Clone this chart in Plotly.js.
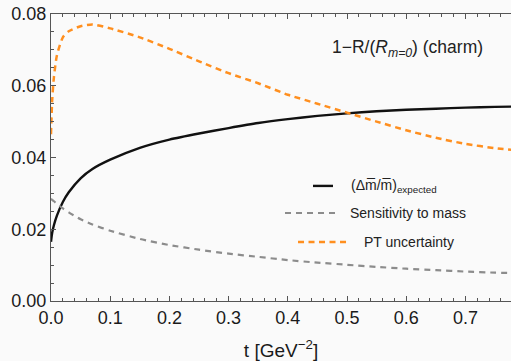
<!DOCTYPE html>
<html>
<head>
<meta charset="utf-8">
<script src="https://cdn.plot.ly/plotly-3.0.1.min.js"></script>
<style>html,body{margin:0;padding:0;background:#fafafa;overflow:hidden}#chart{width:511px;height:361px}</style>
</head>
<body>
<div id="chart"></div>
<script>
// Data
const tValues = [0, 0.002, 0.005, 0.01, 0.02, 0.03, 0.05, 0.07, 0.1, 0.15, 0.2, 0.25, 0.3, 0.35, 0.4, 0.45, 0.5, 0.55, 0.6, 0.65, 0.7, 0.75, 0.78];
const expectedValues = [0.0165, 0.0190, 0.0212, 0.0238, 0.0276, 0.0303, 0.0342, 0.0368, 0.0394, 0.0427, 0.0450, 0.0467, 0.0482, 0.0496, 0.0507, 0.0516, 0.0523, 0.0529, 0.0533, 0.0536, 0.0539, 0.0541, 0.0542];
const sensitivityValues = [0.0285, 0.0282, 0.0278, 0.0271, 0.0258, 0.0247, 0.0228, 0.0213, 0.0196, 0.0173, 0.0156, 0.0143, 0.0132, 0.0123, 0.0114, 0.0107, 0.0101, 0.0095, 0.0090, 0.0086, 0.0082, 0.0079, 0.0078];
const ptValues = [0.0465, 0.0560, 0.0625, 0.0685, 0.0735, 0.0752, 0.0766, 0.0771, 0.0760, 0.0735, 0.0703, 0.0668, 0.0635, 0.0607, 0.0575, 0.0550, 0.0525, 0.0500, 0.0476, 0.0455, 0.0438, 0.0426, 0.0421];
const seriesNames = ["(\u0394m\u0305/m\u0305)<sub>expected</sub>", "Sensitivity to mass", "PT uncertainty"];
const xTickVals = [0, 0.1, 0.2, 0.3, 0.4, 0.5, 0.6, 0.7];
const yTickVals = [0, 0.02, 0.04, 0.06, 0.08];

const FONT = '"Liberation Sans", Arial, Helvetica, sans-serif';
const ORANGE = '#ff8f1f';
const GRAY = '#8c8c8c';

const traces = [
  {x: tValues, y: expectedValues, type: 'scatter', mode: 'lines', name: seriesNames[0],
   line: {color: '#111111', width: 2.4, shape: 'spline', smoothing: 0.6}},
  {x: tValues, y: sensitivityValues, type: 'scatter', mode: 'lines', name: seriesNames[1],
   line: {color: GRAY, width: 2.2, dash: '6px,5px', shape: 'spline', smoothing: 0.6}},
  {x: tValues, y: ptValues, type: 'scatter', mode: 'lines', name: seriesNames[2],
   line: {color: ORANGE, width: 2.5, dash: '6px,4.5px', shape: 'spline', smoothing: 0.6}}
];

// legend built from shapes + annotations (paper coordinates)
const legendRows = [
  {x0: 0.5696, x1: 0.613, y: 0.401, tx: 0.6478, color: '#111111', dash: 'solid', width: 2.4},
  {x0: 0.5087, x1: 0.6196, y: 0.3066, tx: 0.6457, color: GRAY, dash: '6px,5px', width: 2.2},
  {x0: 0.537, x1: 0.65, y: 0.2056, tx: 0.676, color: ORANGE, dash: '6px,4.5px', width: 2.5}
];
const shapes = legendRows.map(r => ({type: 'line', xref: 'paper', yref: 'paper', x0: r.x0, x1: r.x1, y0: r.y, y1: r.y,
  line: {color: r.color, width: r.width, dash: r.dash}}));
const annotations = legendRows.map((r, i) => ({xref: 'paper', yref: 'paper', x: r.tx, y: r.y, xanchor: 'left', yanchor: 'middle',
  text: seriesNames[i], showarrow: false, font: {family: FONT, size: 14, color: '#222'}}));
annotations.push({xref: 'paper', yref: 'paper', x: 0.776, y: 0.88, xanchor: 'center', yanchor: 'middle', showarrow: false,
  text: '1\u2212R/(<i>R</i><sub><i>m=0</i></sub>) (charm)', font: {family: FONT, size: 17.5, color: '#222'}});

const layout = {
  width: 511, height: 361,
  margin: {l: 51, r: 0, t: 14, b: 60},
  paper_bgcolor: '#fafafa', plot_bgcolor: '#fafafa',
  showlegend: false,
  font: {family: FONT, color: '#1a1a1a'},
  xaxis: {
    range: [0, 0.777], tickvals: xTickVals, tickformat: '.1f',
    ticks: 'inside', ticklen: 5, tickcolor: '#555', tickwidth: 1,
    minor: {dtick: 0.02, ticks: 'inside', ticklen: 3, tickcolor: '#555', tickwidth: 1},
    showline: true, linecolor: '#555', linewidth: 1, mirror: 'ticks',
    showgrid: false, zeroline: false,
    tickfont: {family: FONT, size: 18, color: '#1a1a1a'},
    title: {text: 't [GeV<sup>\u22122</sup>]', font: {family: FONT, size: 19, color: '#1a1a1a'}, standoff: 19}
  },
  yaxis: {
    range: [0, 0.08], tickvals: yTickVals, tickformat: '.2f',
    ticks: 'inside', ticklen: 5, tickcolor: '#555', tickwidth: 1,
    minor: {dtick: 0.005, ticks: 'inside', ticklen: 3, tickcolor: '#555', tickwidth: 1},
    showline: true, linecolor: '#555', linewidth: 1,
    showgrid: false, zeroline: false,
    tickfont: {family: FONT, size: 18, color: '#1a1a1a'}
  },
  shapes: shapes,
  annotations: annotations
};

Plotly.newPlot('chart', traces, layout, {staticPlot: true, displayModeBar: false});
</script>
</body>
</html>
